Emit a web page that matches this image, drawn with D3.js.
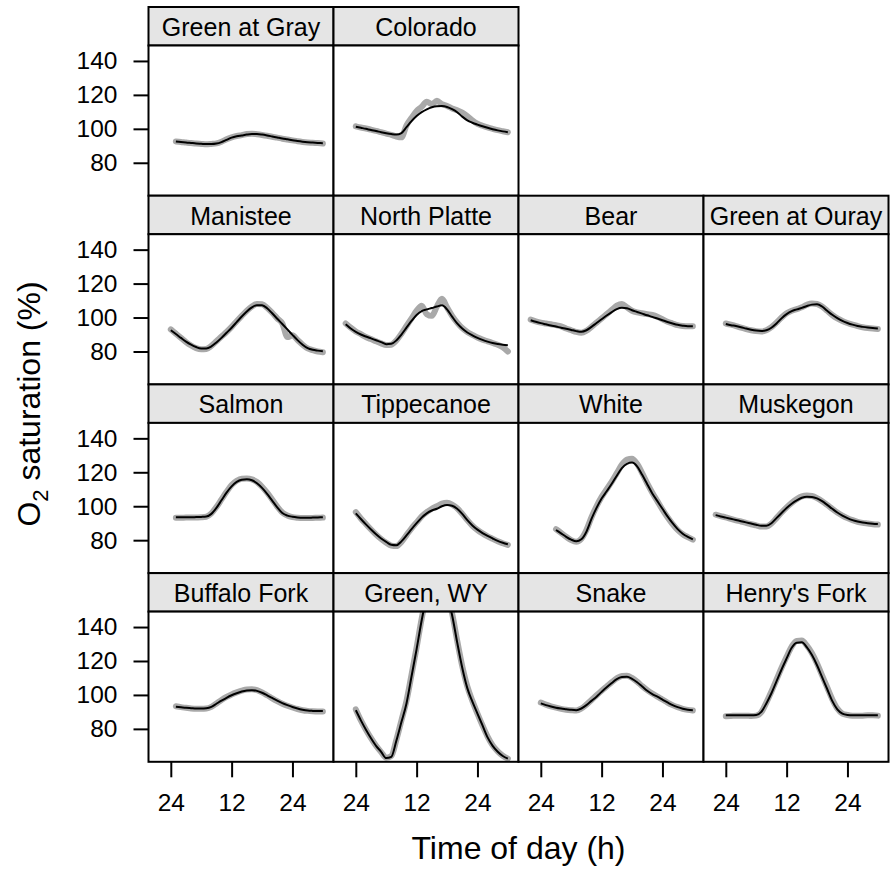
<!DOCTYPE html>
<html>
<head>
<meta charset="utf-8">
<script src="https://cdn.jsdelivr.net/npm/d3@7"></script>
<style>
  body { margin: 0; background: #fff; }
  svg { font-family: "Liberation Sans", Arial, Helvetica, sans-serif; }
</style>
</head>
<body>
<div id="chart"></div>
<script>
// hours since midnight of day 1 (24 = midnight, 36 = noon, 48 = midnight)
var hours = [22,23,24,25,26,27,28,29,30,31,32,33,34,35,36,37,38,39,40,41,42,43,44,45,46,47,48,49,50,51,52,53,54];

var sites = ["Green at Gray", "Colorado",
  "Manistee", "North Platte", "Bear", "Green at Ouray",
  "Salmon", "Tippecanoe", "White", "Muskegon",
  "Buffalo Fork", "Green, WY", "Snake", "Henry's Fork"];

// black = model fit, grey = observed O2 saturation (%)
var fitGreenGray = [null,null,null,92.5,92.2,92.0,91.7,91.4,91.2,91.0,91.0,91.3,92.2,93.5,94.8,95.6,96.1,96.6,96.9,96.9,96.6,96.1,95.5,94.9,94.3,93.8,93.3,92.8,92.4,92.1,91.9,91.7,91.5];
var obsGreenGray = [null,null,null,92.6,92.3,91.9,91.6,91.3,91.1,90.9,91.1,91.4,92.4,93.8,95.0,95.8,96.3,96.9,97.1,96.8,96.4,95.9,95.3,94.8,94.2,93.7,93.2,92.7,92.3,92.0,91.8,91.6,91.4];

var fitColorado = [null,null,101.2,100.6,100.0,99.3,98.7,98.0,97.4,96.9,96.6,97.5,101.0,104.5,107.5,109.8,111.5,112.7,113.3,113.4,112.9,111.6,109.8,107.2,105.0,103.6,102.5,101.5,100.6,99.8,99.1,98.5,98.0];
var obsColorado = [null,null,101.5,100.8,100.2,99.5,98.8,98.0,97.2,96.5,95.5,95.0,102.0,106.5,110.5,113.0,116.0,114.5,116.5,114.5,113.5,112.0,111.0,109.5,107.5,105.0,103.0,101.8,100.8,100.0,99.2,98.6,98.0];

var fitManistee = [null,null,92.5,90.3,88.0,85.8,84.0,82.6,81.8,81.8,83.0,85.3,88.0,91.0,94.0,97.3,100.6,103.6,106.0,107.3,107.2,105.5,102.5,99.3,96.2,93.0,89.8,86.7,84.0,82.0,81.0,80.5,80.1];
var obsManistee = [null,null,93.0,90.5,88.0,85.5,83.5,82.0,81.3,81.5,83.3,86.0,88.8,91.5,94.5,97.8,101.0,104.0,106.5,108.0,107.8,105.8,102.8,99.5,96.5,88.5,89.5,86.8,84.0,81.8,80.8,80.0,79.6];

var fitNorthPlatte = [96.0,93.5,91.5,90.0,88.8,87.7,86.6,85.5,84.3,84.5,86.5,90.0,94.0,98.0,101.5,103.8,104.8,105.6,106.5,107.2,104.8,100.5,96.5,93.5,91.2,89.5,88.0,86.8,85.8,85.0,84.4,84.0,83.7];
var obsNorthPlatte = [96.5,94.0,91.8,90.2,88.5,87.3,86.0,84.8,83.8,84.0,86.5,90.5,95.0,99.5,104.0,107.0,102.0,101.0,106.5,111.0,106.0,101.0,97.0,93.8,91.5,89.8,88.2,87.0,86.0,85.0,84.0,82.5,80.0];

var fitBear = [98.4,97.5,96.7,96.0,95.3,94.7,94.0,93.4,92.7,92.0,91.6,92.5,94.5,96.8,99.0,101.2,103.2,105.0,105.8,105.5,104.3,103.3,102.3,101.3,100.4,99.4,98.4,97.4,96.5,95.7,95.2,94.9,94.9];
var obsBear = [98.8,97.8,97.0,96.5,96.0,95.5,94.8,93.5,92.5,91.5,91.0,92.2,94.5,97.0,99.5,102.0,104.5,107.0,108.0,106.0,104.0,103.0,102.5,102.0,101.5,100.5,99.0,97.5,96.5,95.5,95.0,94.8,94.8];

var fitOuray = [null,null,96.2,95.5,95.0,94.3,93.5,92.8,92.3,92.1,92.5,94.0,96.5,99.5,102.0,103.8,104.8,105.7,106.8,107.6,107.8,106.5,104.0,101.6,99.6,98.0,96.8,95.8,95.0,94.5,94.1,93.8,93.6];
var obsOuray = [null,null,96.5,95.8,95.0,94.0,93.2,92.5,92.0,91.8,92.5,94.3,97.0,100.0,102.5,104.0,105.0,106.0,107.5,108.3,108.0,106.5,104.0,101.5,99.5,98.0,96.8,95.8,95.0,94.3,93.8,93.5,93.3];

var fitSalmon = [null,null,null,93.5,93.5,93.5,93.5,93.6,93.7,93.9,95.5,99.0,103.5,108.0,111.7,114.3,115.6,115.9,115.3,113.5,110.8,107.3,103.3,99.3,96.0,94.5,93.8,93.4,93.2,93.2,93.3,93.4,93.5];
var obsSalmon = [null,null,null,93.2,93.2,93.3,93.3,93.4,93.5,93.8,95.8,99.5,104.0,108.5,112.5,115.0,116.2,116.3,115.8,114.3,111.5,108.0,104.0,99.8,96.3,94.5,93.6,93.2,93.0,93.0,93.1,93.2,93.3];

var fitTippecanoe = [null,null,95.8,92.5,89.3,86.3,83.5,81.0,79.0,77.3,77.0,79.3,82.8,86.5,90.0,93.3,95.8,97.5,98.5,100.0,100.7,100.3,98.5,95.5,91.8,88.7,86.2,84.2,82.5,81.0,79.6,78.5,77.6];
var obsTippecanoe = [null,null,96.5,92.8,89.5,86.3,83.3,80.7,78.5,76.8,76.5,79.0,83.0,87.0,90.5,94.0,96.5,98.5,100.0,101.5,102.0,101.0,98.8,95.5,91.8,88.5,86.0,84.0,82.3,80.8,79.3,78.2,77.2];

var fitWhite = [null,null,null,null,null,86.0,84.0,82.0,80.3,79.3,80.5,85.0,92.5,99.0,104.5,108.8,113.2,118.0,122.5,125.0,125.7,123.5,118.5,113.0,107.5,103.0,98.5,94.0,90.0,86.5,83.8,82.0,80.5];
var obsWhite = [null,null,null,null,null,86.5,84.3,82.0,80.0,79.0,80.8,86.0,93.5,100.0,105.5,110.0,114.5,119.5,124.5,127.5,128.0,125.0,119.5,113.5,108.0,103.0,98.0,93.5,89.5,86.0,83.5,81.8,80.3];

var fitMuskegon = [94.8,94.0,93.3,92.6,91.9,91.2,90.5,89.8,89.1,88.5,88.5,90.0,93.0,96.0,99.0,101.5,103.5,105.0,105.6,105.5,104.6,103.0,100.8,98.5,96.3,94.5,93.0,91.8,91.0,90.4,90.0,89.7,89.5];
var obsMuskegon = [95.0,94.2,93.4,92.5,91.7,91.0,90.2,89.4,88.7,88.0,88.0,89.8,93.0,96.3,99.3,102.0,104.2,105.8,106.3,106.0,104.8,103.0,100.8,98.5,96.3,94.5,93.0,91.8,90.8,90.2,89.8,89.4,89.2];

var fitBuffalo = [null,null,null,93.0,92.7,92.4,92.2,92.0,92.0,92.2,93.0,94.8,96.6,98.3,99.8,101.0,102.0,102.6,102.8,102.4,101.3,99.8,98.2,96.6,95.2,94.0,92.9,92.0,91.3,90.8,90.6,90.5,90.5];
var obsBuffalo = [null,null,null,93.3,92.8,92.4,92.0,91.8,91.8,92.0,93.0,95.0,97.0,98.8,100.3,101.5,102.5,103.2,103.3,102.8,101.5,99.8,98.0,96.3,94.8,93.6,92.6,91.7,91.0,90.6,90.4,90.3,90.3];

var fitGreenWY = [null,null,91.0,85.0,79.5,74.5,70.0,66.5,62.8,63.5,73.0,84.0,95.0,111.0,127.0,144.0,158.0,168.0,172.0,168.0,158.0,147.0,131.0,116.0,104.0,96.0,89.0,82.0,75.0,70.0,66.5,64.0,62.5];
var obsGreenWY = [null,null,91.5,85.0,79.5,74.5,70.0,66.3,63.0,64.0,73.5,85.0,96.5,112.0,128.0,145.0,159.0,169.0,173.0,169.0,159.0,148.0,132.0,117.0,105.0,96.5,89.0,82.0,75.5,70.3,66.8,64.2,62.5];

var fitSnake = [null,null,95.0,94.0,93.2,92.5,92.0,91.6,91.2,91.0,92.0,94.0,96.5,99.0,101.8,104.5,107.0,109.3,110.5,110.7,109.5,107.5,105.0,102.5,100.5,99.0,97.3,95.6,94.0,92.8,91.9,91.3,91.0];
var obsSnake = [null,null,95.5,94.3,93.3,92.5,91.8,91.3,91.0,90.8,92.0,94.3,97.0,99.8,102.5,105.0,107.5,109.8,111.2,111.3,110.0,107.8,105.2,102.8,100.8,99.0,97.3,95.5,94.0,92.8,91.8,91.2,90.8];

var fitHenrys = [null,null,88.0,88.0,88.0,88.0,88.0,88.0,88.2,90.0,95.0,101.0,108.0,115.0,121.5,127.8,130.8,131.0,128.0,123.5,117.5,110.5,103.5,96.5,91.5,89.0,88.2,88.0,88.0,88.0,88.0,88.0,88.0];
var obsHenrys = [null,null,87.5,87.6,87.8,87.8,87.8,87.6,87.8,89.8,95.5,102.0,109.0,116.0,122.5,128.5,131.8,132.0,129.0,124.5,118.5,111.5,104.5,97.5,92.0,89.0,88.2,87.8,87.7,87.8,88.0,88.0,87.8];

var fits = [fitGreenGray, fitColorado, fitManistee, fitNorthPlatte, fitBear, fitOuray,
  fitSalmon, fitTippecanoe, fitWhite, fitMuskegon, fitBuffalo, fitGreenWY, fitSnake, fitHenrys];
var observed = [obsGreenGray, obsColorado, obsManistee, obsNorthPlatte, obsBear, obsOuray,
  obsSalmon, obsTippecanoe, obsWhite, obsMuskegon, obsBuffalo, obsGreenWY, obsSnake, obsHenrys];

var yTicks = [80, 100, 120, 140];
var xTicks = [24, 36, 48];

// layout
var W = 893, H = 878;
var padLeft = 148.5, padTop = 7;
var colW = 185, rowH = 188.7, stripH = 38.5;
var panelH = rowH - stripH;
var nRows = 4;

var svg = d3.select("#chart").append("svg")
  .attr("width", W).attr("height", H);

var x = d3.scaleLinear().domain([19.6, 56.1]).range([0, colW]);
var y = d3.scaleLinear().domain([60.6, 149.1]).range([panelH, 0]);

var line = d3.line()
  .defined(function (d) { return d[1] != null; })
  .x(function (d) { return x(d[0]); })
  .y(function (d) { return y(d[1]); })
  .curve(d3.curveMonotoneX);

svg.append("defs").append("clipPath").attr("id", "panelClip")
  .append("rect").attr("width", colW).attr("height", panelH);

// first row holds 2 panels, the others 4
function cellOf(i) {
  if (i < 2) return { row: 0, col: i };
  return { row: 1 + Math.floor((i - 2) / 4), col: (i - 2) % 4 };
}

sites.forEach(function (name, i) {
  var c = cellOf(i);
  var g = svg.append("g")
    .attr("transform", "translate(" + (padLeft + c.col * colW) + "," + (padTop + c.row * rowH) + ")");

  // strip
  g.append("rect")
    .attr("width", colW).attr("height", stripH)
    .attr("fill", "#e5e5e5").attr("stroke", "#000").attr("stroke-width", 2);
  g.append("text")
    .attr("x", colW / 2).attr("y", 29)
    .attr("text-anchor", "middle")
    .style("font-size", "25px")
    .text(name);

  var p = g.append("g").attr("transform", "translate(0," + stripH + ")");
  p.append("rect")
    .attr("width", colW).attr("height", panelH)
    .attr("fill", "#fff");

  var pts = function (arr) { return hours.map(function (h, k) { return [h, arr[k]]; }); };
  var clip = p.append("g").attr("clip-path", "url(#panelClip)");
  clip.append("path")
    .attr("d", line(pts(observed[i])))
    .attr("fill", "none").attr("stroke", "#a9a9a9")
    .attr("stroke-width", 6).attr("stroke-linecap", "round").attr("stroke-linejoin", "round");
  clip.append("path")
    .attr("d", line(pts(fits[i])))
    .attr("fill", "none").attr("stroke", "#000")
    .attr("stroke-width", 2).attr("stroke-linejoin", "round");

  p.append("rect")
    .attr("width", colW).attr("height", panelH)
    .attr("fill", "none").attr("stroke", "#000").attr("stroke-width", 2);

  if (c.col === 0) {
    var ya = p.append("g").call(d3.axisLeft(y).tickValues(yTicks).tickSize(15).tickPadding(16));
    ya.attr("font-family", null).attr("font-size", null);
    ya.select(".domain").remove();
    ya.selectAll("line").attr("stroke-width", 2);
    ya.selectAll("text").style("font-size", "24.5px");
  }
  if (c.row === nRows - 1) {
    var xa = p.append("g").attr("transform", "translate(0," + panelH + ")")
      .call(d3.axisBottom(x).tickValues(xTicks).tickSize(15.5).tickPadding(16)
        .tickFormat(function (d) { return d % 24 === 0 ? "24" : String(d % 24); }));
    xa.attr("font-family", null).attr("font-size", null);
    xa.select(".domain").remove();
    xa.selectAll("line").attr("stroke-width", 2);
    xa.selectAll("text").style("font-size", "24.5px");
  }
});

// axis titles
svg.append("text")
  .attr("x", padLeft + 2 * colW).attr("y", 859)
  .attr("text-anchor", "middle")
  .style("font-size", "32px")
  .text("Time of day (h)");

var yt = svg.append("text")
  .attr("transform", "translate(40,404) rotate(-90)")
  .attr("text-anchor", "middle")
  .style("font-size", "32px");
yt.append("tspan").text("O");
yt.append("tspan").attr("dy", 8).style("font-size", "22px").text("2");
yt.append("tspan").attr("dy", -8).text(" saturation (%)");
</script>
</body>
</html>
